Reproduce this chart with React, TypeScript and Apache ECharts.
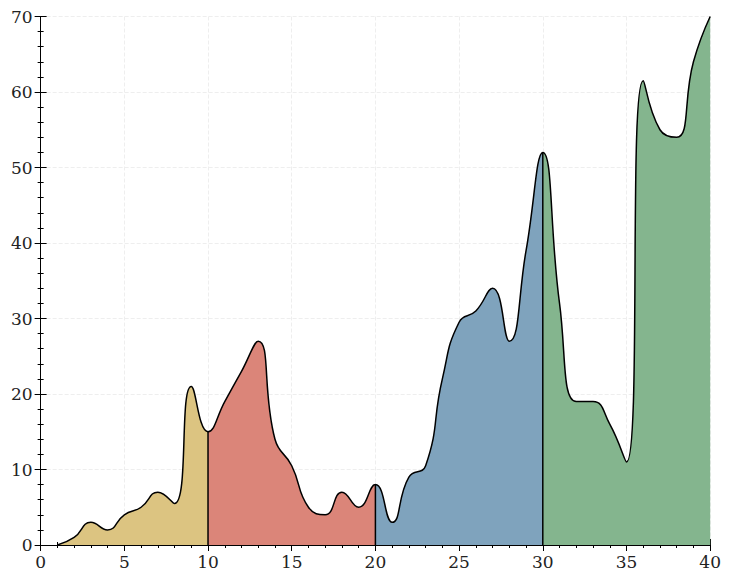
import React, { useEffect, useRef } from "react";
import * as echarts from "echarts";

const xs = [1, 2, 3, 4, 5, 6, 7, 8, 9, 10, 11, 12, 13, 14, 15, 16, 17, 18, 19, 20, 21, 22, 23, 24, 25, 26, 27, 28, 29, 30, 31, 32, 33, 34, 35, 36, 37, 38, 39, 40];
const ys = [0, 1, 3, 2, 4, 5, 7, 5.5, 21, 15, 19, 23, 27, 14, 10.5, 5, 4, 7, 5, 8, 3, 9, 10.5, 22, 29.5, 31, 34, 27, 39, 52, 32, 19, 19, 16, 11, 61.5, 55, 54, 64, 70];
const segments = [
  { from: 0, to: 10, color: "#dcc481" },
  { from: 10, to: 20, color: "#db8579" },
  { from: 20, to: 30, color: "#7fa3bd" },
  { from: 30, to: 41, color: "#84b58e" },
];
const dividers = [10, 20, 30];

const font = "DejaVu Serif";

const App = () => {
  const chartRef = useRef(null);

  useEffect(() => {
    if (!chartRef.current) return;
    const chart = echarts.init(chartRef.current, null, { renderer: "svg" });

    const pts = xs.map((x, i) => [x, ys[i]]);
    const valueAt = (x: number) => ys[xs.indexOf(x)];

    const axisCommon = {
      type: "value",
      axisLine: { show: true, lineStyle: { color: "#000", width: 1 } },
      axisTick: { show: true, inside: true, length: 6, lineStyle: { color: "#000" } },
      minorTick: { show: true, splitNumber: 5, length: 3, lineStyle: { color: "#000" } },
    };

    const series: any[] = [
      {
        type: "line",
        smooth: 0.5,
        symbol: "none",
        data: pts,
        lineStyle: { width: 0 },
        areaStyle: { opacity: 1 },
      },
      {
        type: "line",
        smooth: 0.5,
        symbol: "none",
        data: pts,
        lineStyle: { color: "#000", width: 1.5 },
        z: 3,
      },
    ];
    dividers.forEach((d) => {
      series.push({
        type: "line",
        symbol: "none",
        data: [[d, 0], [d, valueAt(d)]],
        lineStyle: { color: "#000", width: 1.5 },
        z: 3,
      });
    });

    chart.setOption({
      animation: false,
      visualMap: {
        type: "piecewise",
        show: false,
        dimension: 0,
        seriesIndex: 0,
        pieces: segments.map((s) => ({ gte: s.from, lt: s.to, color: s.color })),
      },
      grid: { left: 30, right: 7, top: 2, bottom: 28 },
      xAxis: [
        {
          ...axisCommon,
          min: 0,
          max: 40,
          interval: 5,
          position: "bottom",
          axisLabel: { color: "#222", fontFamily: font, fontSize: 17, margin: 8 },
          splitLine: { show: true, lineStyle: { color: "#eee", type: "dashed" } },
        },
        {
          ...axisCommon,
          min: 0,
          max: 40,
          interval: 5,
          position: "top",
          axisLabel: { show: false },
          splitLine: { show: false },
        },
      ],
      yAxis: [
        {
          ...axisCommon,
          min: 0,
          max: 70,
          interval: 10,
          position: "left",
          axisLabel: { color: "#222", fontFamily: font, fontSize: 17, margin: 8 },
          splitLine: { show: true, lineStyle: { color: "#eee", type: "dashed" } },
        },
        {
          ...axisCommon,
          min: 0,
          max: 70,
          interval: 10,
          position: "right",
          axisLabel: { show: false },
          splitLine: { show: false },
        },
      ],
      series,
    });

    return () => chart.dispose();
  }, []);

  return <div ref={chartRef} style={{ width: "716px", height: "565px" }} />;
};

export default App;
